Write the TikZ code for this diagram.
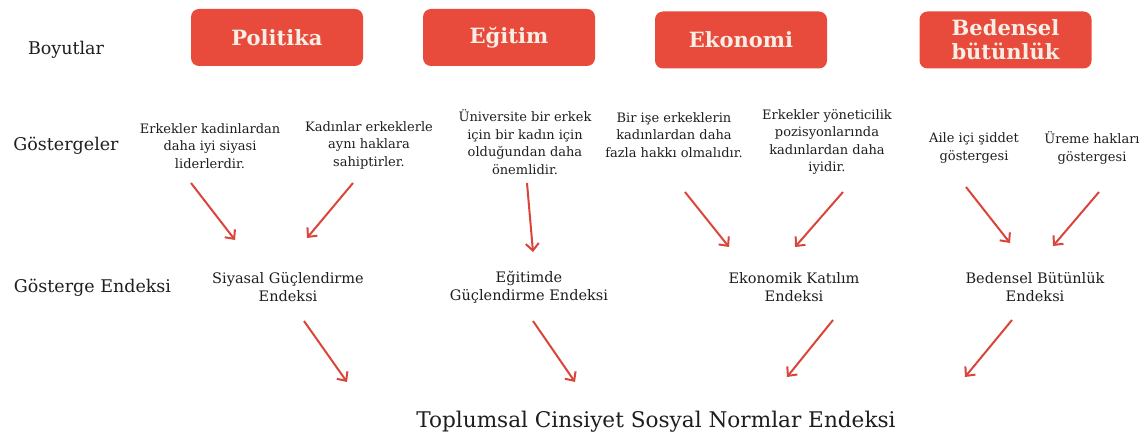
\documentclass[tikz,border=0pt]{standalone}
\usepackage{fontspec}
\setmainfont{DejaVu Serif}
\usepackage{tikz}
\usetikzlibrary{positioning,arrows.meta}
\definecolor{kirmizi}{HTML}{E84B3C}
\definecolor{okrengi}{HTML}{D9453B}
\definecolor{krem}{HTML}{F7EFE6}
\definecolor{yazi}{HTML}{1E1E1E}

\begin{document}
\begin{tikzpicture}[>={Straight Barb[length=7pt,width=13pt]}, boyut/.style={rectangle, rounded corners=8pt, fill=kirmizi, text=krem, minimum width=172pt, minimum height=57pt, align=center, font=\fontsize{21}{24}\selectfont\bfseries}, etiket/.style={text=yazi, font=\fontsize{17.5}{20}\selectfont}, gosterge/.style={text=yazi, align=center, font=\fontsize{13}{17.5}\selectfont}, endeks/.style={text=yazi, align=center, font=\fontsize{14.5}{17.5}\selectfont}, ok/.style={->, draw=okrengi, line width=2pt}]
		\useasboundingbox (0pt, 0pt) rectangle (1148pt, -438pt);
		\draw (66.0pt, -50.0pt)node[etiket](boy){Boyutlar};
		\draw (66.0pt, -146.0pt)node[etiket](gos){Göstergeler};
		\draw (92.5pt, -288.0pt)node[etiket](gen){Gösterge Endeksi};
		\draw (277.0pt, -37.5pt)node[boyut](pol){Politika};
		\draw (509.0pt, -37.5pt)node[boyut](egi){Eğitim};
		\draw (741.0pt, -40.0pt)node[boyut](eko){Ekonomi};
		\draw (1005.5pt, -40.0pt)node[boyut](bed){Bedensel\\bütünlük};
		\draw (210.0pt, -146.0pt)node[gosterge](g1){Erkekler kadinlardan\\daha iyi siyasi\\liderlerdir.};
		\draw (369.0pt, -145.0pt)node[gosterge](g2){Kadınlar erkeklerle\\aynı haklara\\sahiptirler.};
		\draw (525.0pt, -142.0pt)node[gosterge](g3){Üniversite bir erkek\\için bir kadın için\\olduğundan daha\\önemlidir.};
		\draw (674.0pt, -135.0pt)node[gosterge](g4){Bir işe erkeklerin\\kadınlardan daha\\fazla hakkı olmalıdır.};
		\draw (827.0pt, -142.0pt)node[gosterge](g5){Erkekler yöneticilik\\pozisyonlarında\\kadınlardan daha\\iyidir.};
		\draw (974.0pt, -148.0pt)node[gosterge](g6){Aile içi şiddet\\göstergesi};
		\draw (1092.0pt, -148.0pt)node[gosterge](g7){Üreme hakları\\göstergesi};
		\draw (288.0pt, -287.0pt)node[endeks](e1){Siyasal Güçlendirme\\Endeksi};
		\draw (529.0pt, -287.0pt)node[endeks](e2){Eğitimde\\Güçlendirme Endeksi};
		\draw (794.0pt, -287.0pt)node[endeks](e3){Ekonomik Katılım\\Endeksi};
		\draw (1035.0pt, -287.0pt)node[endeks](e4){Bedensel Bütünlük\\Endeksi};
		\draw (656.0pt, -422.0pt)node[text=yazi, font=\fontsize{21.6}{25}\selectfont](tcs){Toplumsal Cinsiyet Sosyal Normlar Endeksi};
		% ok uclari
		\coordinate (g1o) at (191pt, -183pt);
		\coordinate (e1a) at (235pt, -240pt);
		\coordinate (g2o) at (353pt, -183pt);
		\coordinate (e1b) at (307pt, -238pt);
		\coordinate (g3o) at (527pt, -183pt);
		\coordinate (e2a) at (533pt, -252pt);
		\coordinate (g4o) at (685pt, -192pt);
		\coordinate (e3a) at (729pt, -247pt);
		\coordinate (g5o) at (843pt, -192pt);
		\coordinate (e3b) at (795pt, -247pt);
		\coordinate (g6o) at (966pt, -187pt);
		\coordinate (e4a) at (1010pt, -243pt);
		\coordinate (g7o) at (1099pt, -192pt);
		\coordinate (e4b) at (1053pt, -246pt);
		\coordinate (e1o) at (304pt, -321pt);
		\coordinate (e2o) at (533pt, -321pt);
		\coordinate (e3o) at (833pt, -320pt);
		\coordinate (e4o) at (1012pt, -320pt);
		\coordinate (t1) at (347pt, -382pt);
		\coordinate (t2) at (575pt, -382pt);
		\coordinate (t3) at (787pt, -377pt);
		\coordinate (t4) at (965pt, -377pt);
		\draw[ok] (g1o) -- (e1a);
		\draw[ok] (g2o) -- (e1b);
		\draw[ok] (g3o) -- (e2a);
		\draw[ok] (g4o) -- (e3a);
		\draw[ok] (g5o) -- (e3b);
		\draw[ok] (g6o) -- (e4a);
		\draw[ok] (g7o) -- (e4b);
		\draw[ok] (e1o) -- (t1);
		\draw[ok] (e2o) -- (t2);
		\draw[ok] (e3o) -- (t3);
		\draw[ok] (e4o) -- (t4);
		\end{tikzpicture}
\end{document}
